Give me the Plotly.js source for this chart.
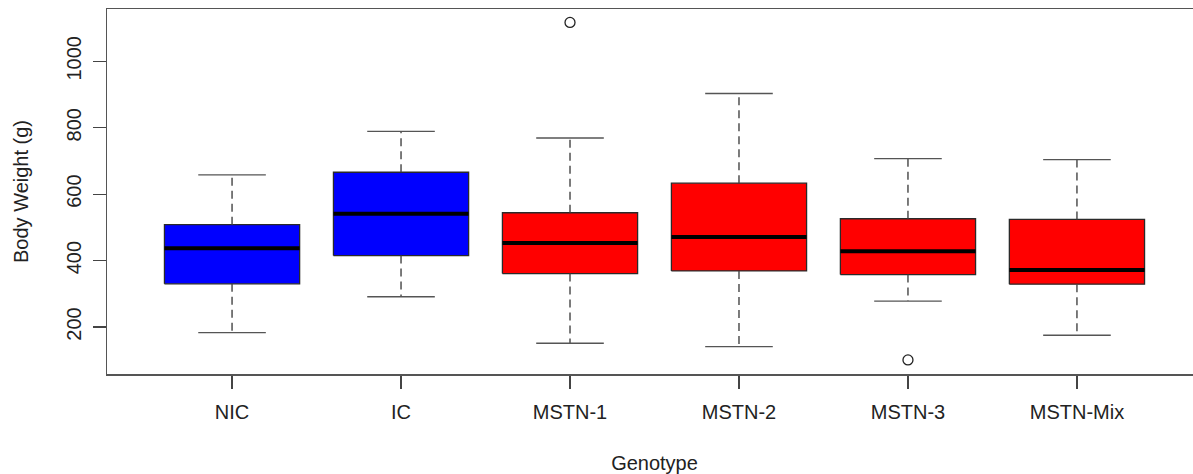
<!DOCTYPE html>
<html>
<head>
<meta charset="utf-8">
<script src="https://cdn.plot.ly/plotly-3.0.1.min.js"></script>
<style>
  html, body { margin: 0; padding: 0; overflow: hidden; background: #fff; }
  #chart { width: 1210px; height: 474px; }
</style>
</head>
<body>
<div id="chart"></div>
<script>
// ---- data ----
const categories   = ['NIC', 'IC', 'MSTN-1', 'MSTN-2', 'MSTN-3', 'MSTN-Mix'];
const lowerWhisker = [183, 291, 151, 141, 278, 175];
const q1           = [330, 415, 361, 369, 358, 329];
const medians      = [437, 541, 453, 471, 428, 372];
const q3           = [508, 666, 544, 633, 526, 524];
const upperWhisker = [658, 789, 769, 903, 707, 704];
const outlierGroup = ['MSTN-1', 'MSTN-3'];
const outlierValue = [1117, 101];
const yTicks       = [200, 400, 600, 800, 1000];

// ---- styles ----
const fillColors = ['#0000FF', '#0000FF', '#FF0000', '#FF0000', '#FF0000', '#FF0000'];
const boxHalf = 0.4, capHalf = 0.2;
const FONT = 'Liberation Sans, Arial, Helvetica, sans-serif';

const traces = [];
const pos = categories.map((c, i) => i + 1);

// boxes
categories.forEach((c, i) => {
  const x = pos[i];
  traces.push({
    type: 'scatter', mode: 'lines', hoverinfo: 'skip', showlegend: false,
    x: [x - boxHalf, x + boxHalf, x + boxHalf, x - boxHalf, x - boxHalf],
    y: [q1[i], q1[i], q3[i], q3[i], q1[i]],
    fill: 'toself', fillcolor: fillColors[i],
    line: { color: '#2a2a2a', width: 1.3 }
  });
});

// dashed whiskers
const wx = [], wy = [];
categories.forEach((c, i) => {
  wx.push(pos[i], pos[i], null, pos[i], pos[i], null);
  wy.push(q3[i], upperWhisker[i], null, q1[i], lowerWhisker[i], null);
});
traces.push({
  type: 'scatter', mode: 'lines', hoverinfo: 'skip', showlegend: false,
  x: wx, y: wy, line: { color: '#444', width: 1.4, dash: '8px,5px' }
});

// caps
const cx = [], cy = [];
categories.forEach((c, i) => {
  cx.push(pos[i] - capHalf, pos[i] + capHalf, null, pos[i] - capHalf, pos[i] + capHalf, null);
  cy.push(upperWhisker[i], upperWhisker[i], null, lowerWhisker[i], lowerWhisker[i], null);
});
traces.push({
  type: 'scatter', mode: 'lines', hoverinfo: 'skip', showlegend: false,
  x: cx, y: cy, line: { color: '#555', width: 1.4 }
});

// medians
const mx = [], my = [];
categories.forEach((c, i) => {
  mx.push(pos[i] - boxHalf, pos[i] + boxHalf, null);
  my.push(medians[i], medians[i], null);
});
traces.push({
  type: 'scatter', mode: 'lines', hoverinfo: 'skip', showlegend: false,
  x: mx, y: my, line: { color: '#000', width: 4 }
});

// outliers
traces.push({
  type: 'scatter', mode: 'markers', hoverinfo: 'skip', showlegend: false,
  x: outlierGroup.map(g => categories.indexOf(g) + 1), y: outlierValue,
  marker: { symbol: 'circle-open', size: 10, color: '#222', line: { width: 1.3, color: '#222' } }
});

const layout = {
  width: 1210, height: 474,
  margin: { l: 107, r: 8, t: 9, b: 100 },
  paper_bgcolor: '#fff', plot_bgcolor: '#fff',
  font: { family: FONT, size: 20, color: '#222' },
  showlegend: false,
  xaxis: {
    range: [0.26, 6.74], tickmode: 'array', tickvals: pos, ticktext: categories,
    showgrid: false, zeroline: false,
    showline: true, mirror: true, linecolor: '#555', linewidth: 1.5,
    ticks: 'outside', ticklen: 13, tickwidth: 1.3, tickcolor: '#444',
    ticklabelstandoff: 6,
    tickfont: { family: FONT, size: 20, color: '#222' },
    title: { text: 'Genotype', font: { family: FONT, size: 20, color: '#222' }, standoff: 35 },
    automargin: false
  },
  yaxis: {
    range: [58.5, 1157.5], tickmode: 'array', tickvals: yTicks,
    showgrid: false, zeroline: false,
    showline: true, mirror: true, linecolor: '#555', linewidth: 1.5,
    ticks: 'outside', ticklen: 13, tickwidth: 1.3, tickcolor: '#444',
    tickangle: -90, ticklabelstandoff: 4,
    tickfont: { family: FONT, size: 20, color: '#222' },
    title: { text: 'Body Weight (g)', font: { family: FONT, size: 20, color: '#222' }, standoff: 28 },
    automargin: false
  }
};

Plotly.newPlot('chart', traces, layout, { displayModeBar: false, staticPlot: true });
</script>
</body>
</html>
